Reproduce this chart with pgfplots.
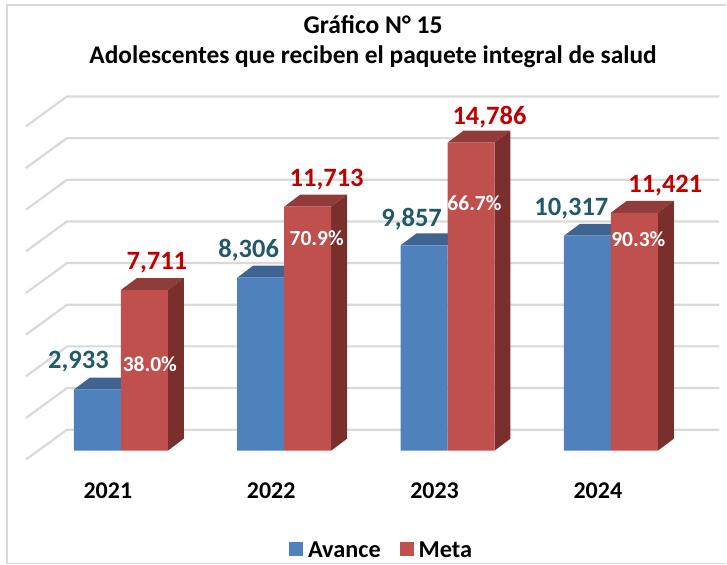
\documentclass[border=0pt]{standalone}
\usepackage{pgfplots}
\pgfplotsset{compat=1.18}
\usepackage{fontspec}
\setmainfont{Carlito}
\definecolor{barblue}{HTML}{4F81BD}
\definecolor{barred}{HTML}{C0504D}
\definecolor{topblue}{HTML}{3F6491}
\definecolor{topred}{HTML}{8F3C3A}
\definecolor{sidered}{HTML}{7A2F2D}
\definecolor{gridc}{HTML}{D9D9D9}
\definecolor{tealc}{HTML}{215968}
\definecolor{redc}{HTML}{C00000}
\newcommand{\topblue}[2]{%
  \pgfmathsetmacro\xa{#1-0.2875}\pgfmathsetmacro\xb{#1-0.2875+0.0979}\pgfmathsetmacro\xc{#1+0.0979}%
  \pgfmathsetmacro\ya{#2+574}%
  \edef\temp{\noexpand\addplot[fill=topblue,draw=none,forget plot] coordinates {(\xa,#2) (#1,#2) (\xc,\ya) (\xb,\ya)} -- cycle;}\temp}
\newcommand{\topred}[2]{%
  \pgfmathsetmacro\xa{#1+0.2875}\pgfmathsetmacro\xb{#1+0.0979}\pgfmathsetmacro\xc{#1+0.2875+0.0979}%
  \pgfmathsetmacro\ya{#2+574}%
  \edef\temp{\noexpand\addplot[fill=topred,draw=none,forget plot] coordinates {(#1,#2) (\xa,#2) (\xc,\ya) (\xb,\ya)} -- cycle;}\temp
  \edef\temp{\noexpand\addplot[fill=sidered,draw=none,forget plot] coordinates {(\xa,0) (\xc,574) (\xc,\ya) (\xa,#2)} -- cycle;}\temp}
\newcommand{\gridl}[2]{\addplot[gridc,line width=2.2pt,forget plot] coordinates {(-0.581,#1) (-0.330,#2) (3.664,#2)};}
\newcommand{\lab}[5]{\node[text=#4,font=\fontsize{#3}{#3}\selectfont\bfseries,inner sep=0pt,anchor=center] at (axis description cs:{#1/727},{1-#2/565}) {#5};}
\begin{document}
\begin{tikzpicture}
\begin{axis}[
  scale only axis,width=727pt,height=565pt,
  xmin=-0.74,xmax=3.7064,ymin=-5468,ymax=21631,
  axis line style={draw=none},
  ytick=\empty,
  xtick={0,1,2,3},xticklabels={2021,2022,2023,2024},
  major tick length=0pt,
  xticklabel style={font=\fontsize{24}{24}\selectfont\bfseries,text=black,anchor=center,xshift=-13pt,yshift=74pt},
  clip=false,
  legend style={draw=none,fill=none,at={(axis description cs:0.5255,0.025)},anchor=center,legend columns=2,
    font=\fontsize{24.3}{24.3}\selectfont\bfseries,/tikz/every even column/.append style={column sep=17pt},/tikz/every odd column/.append style={column sep=3pt},inner sep=0pt},
  legend cell align=left,
]
\gridl{-430}{1005}
\gridl{1570}{3005}
\gridl{3570}{5005}
\gridl{5570}{7005}
\gridl{7570}{9005}
\gridl{9570}{11005}
\gridl{11570}{13005}
\gridl{13570}{15005}
\gridl{15570}{17005}
\topblue{0}{2933}\topred{0}{7711}
\topblue{1}{8306}\topred{1}{11713}
\topblue{2}{9857}\topred{2}{14786}
\topblue{3}{10317}\topred{3}{11421}
\addplot[ybar,bar width=0.2875,bar shift=-0.14375,fill=barblue,draw=none,
  legend image code/.code={\fill[barblue] (0pt,-6pt) rectangle (14pt,8pt);}]
  coordinates {(0,2933) (1,8306) (2,9857) (3,10317)};
\addlegendentry{Avance}
\addplot[ybar,bar width=0.2875,bar shift=0.14375,fill=barred,draw=none,
  legend image code/.code={\fill[barred] (0pt,-6pt) rectangle (14pt,8pt);}]
  coordinates {(0,7711) (1,11713) (2,14786) (3,11421)};
\addlegendentry{Meta}
\lab{373.5}{25}{25.6}{black}{Gráfico N° 15}
\lab{373.5}{57}{25.4}{black}{Adolescentes que reciben el paquete integral de salud}
\lab{78.5}{362}{26.5}{tealc}{2,933}
\lab{157}{263}{26.5}{redc}{7,711}
\lab{249}{250}{26.5}{tealc}{8,306}
\lab{327}{180}{26.5}{redc}{11,713}
\lab{412}{219}{26.5}{tealc}{9,857}
\lab{490}{117}{26.5}{redc}{14,786}
\lab{572}{209}{26.5}{tealc}{10,317}
\lab{666}{186}{26.5}{redc}{11,421}
\lab{150}{364}{21.5}{white}{38.0\%}
\lab{317}{238}{21.5}{white}{70.9\%}
\lab{475}{203}{21.5}{white}{66.7\%}
\lab{639}{239}{21.5}{white}{90.3\%}
\draw[gridc,line width=1.5pt] (axis description cs:1,{1-5/565}) -- (axis description cs:{7/727},{1-5/565}) -- (axis description cs:{7/727},{1-564/565}) -- (axis description cs:1,{1-564/565});
\end{axis}
\end{tikzpicture}
\end{document}
